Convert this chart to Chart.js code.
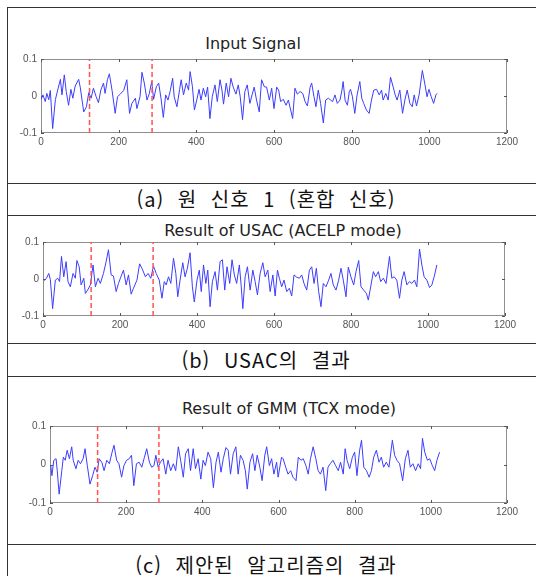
<!DOCTYPE html>
<html lang="ko">
<head>
<meta charset="UTF-8">
<title>Input / USAC / GMM</title>
<script src="https://cdn.jsdelivr.net/npm/chart.js"></script>
<style>
    body {
        margin: 0;
        background: #fff;
    }
    #fig {
        position: relative;
        width: 536px;
        height: 576px;
        overflow: hidden;
        background: #fff;
    }
    .h {
        position: absolute;
        left: 7px;
        right: 0;
        height: 0;
        border-top: 1.5px solid #333;
    }
    .v {
        position: absolute;
        left: 7px;
        top: 7px;
        bottom: 0;
        width: 0;
        border-left: 1.5px solid #333;
    }
    canvas {
        position: absolute;
        left: 8px;
    }
    .ttl {
        position: absolute;
        width: 400px;
        line-height: 20px;
        text-align: center;
        font-family: "DejaVu Sans", sans-serif;
        font-size: 16px;
        color: #222;
        white-space: nowrap;
    }
    .cap {
        position: absolute;
        left: 7px;
        width: 518px;
        line-height: 29px;
        text-align: center;
        font-family: "Noto Sans CJK KR", sans-serif;
        font-size: 20px;
        letter-spacing: 1px;
        word-spacing: 7px;
        color: #111;
        white-space: nowrap;
    }
</style>
</head>
<body>
<div id="fig">
    <div class="h" style="top:7px"></div>
    <div class="v"></div>

    <div class="ttl" style="left:53px; top:34px">Input Signal</div>
    <canvas id="chartA" width="528" height="175" style="top:8px"></canvas>
    <div class="h" style="top:183px"></div>
    <div class="cap" style="top:184px">(a) 원 신호 1 (혼합 신호)</div>
    <div class="h" style="top:215px"></div>

    <div class="ttl" style="left:83px; top:221px">Result of USAC (ACELP mode)</div>
    <canvas id="chartB" width="528" height="127" style="top:216px"></canvas>
    <div class="h" style="top:343px"></div>
    <div class="cap" style="top:345px">(b) USAC의 결과</div>
    <div class="h" style="top:376px"></div>

    <div class="ttl" style="left:89px; top:399px">Result of GMM (TCX mode)</div>
    <canvas id="chartC" width="528" height="167" style="top:377px"></canvas>
    <div class="h" style="top:544px"></div>
    <div class="cap" style="top:550px">(c) 제안된 알고리즘의 결과</div>
</div>

<script>
// sample index / amplitude (peaks and troughs)
const inputSignal = [
    [0,-0.010],[5,0.003],[11,-0.015],[15,0.007],[20,-0.010],[24,0.015],[30,-0.088],[37,-0.010],[43,0.016],[50,0.045],
    [54,0.003],[60,0.057],[65,0.012],[71,-0.025],[77,0.018],[82,-0.006],[88,0.027],[97,0.045],[101,0.024],[110,-0.043],
    [117,-0.029],[123,0.009],[129,-0.006],[135,0.021],[142,-0.002],[148,-0.018],[154,0.016],[161,0.035],[165,0.007],[171,0.044],
    [176,0.060],[183,0.015],[191,-0.047],[197,-0.002],[204,0.005],[213,0.015],[221,0.044],[228,-0.047],[234,-0.020],[243,-0.006],
    [247,-0.034],[255,-0.002],[260,0.064],[266,0.035],[273,-0.011],[279,0.007],[285,0.039],[290,-0.009],[297,0.025],[303,0.035],
    [309,-0.006],[315,-0.058],[321,0.003],[327,-0.011],[333,0.015],[339,0.048],[343,-0.002],[350,-0.029],[357,0.018],[361,0.044],
    [367,0.003],[374,0.035],[380,0.016],[384,0.066],[390,0.025],[395,-0.038],[401,-0.011],[407,0.018],[412,-0.011],[418,0.021],
    [424,-0.002],[429,0.024],[435,-0.061],[441,-0.002],[448,0.030],[454,-0.015],[461,0.044],[466,0.016],[470,-0.022],[477,0.035],
    [483,-0.002],[489,0.048],[495,0.024],[502,0.005],[508,0.030],[513,-0.002],[519,-0.064],[525,0.012],[531,0.030],[538,-0.020],
    [544,0.005],[549,0.024],[555,-0.011],[562,-0.043],[568,0.044],[575,0.025],[581,0.024],[588,-0.011],[594,0.021],[600,-0.034],
    [607,0.024],[612,0.016],[617,-0.015],[624,-0.009],[631,-0.025],[637,-0.011],[643,-0.038],[648,-0.061],[654,0.021],[660,0.005],
    [667,0.012],[674,0.007],[680,-0.015],[686,-0.027],[693,0.024],[697,0.035],[703,-0.002],[708,-0.029],[714,0.016],[720,-0.020],
    [727,-0.073],[733,-0.011],[740,-0.006],[746,-0.011],[751,-0.015],[757,0.003],[763,-0.020],[770,-0.011],[775,0.016],[778,0.039],
    [783,-0.011],[789,-0.025],[794,0.012],[797,0.018],[802,-0.002],[808,-0.047],[814,0.003],[821,0.039],[826,-0.006],[831,-0.020],
    [838,-0.038],[845,-0.047],[851,-0.011],[857,0.016],[864,0.018],[871,0.003],[877,0.016],[881,-0.011],[888,0.007],[894,-0.011],
    [900,0.051],[907,0.024],[912,0.003],[917,-0.011],[924,0.016],[931,-0.047],[937,-0.011],[943,0.016],[950,-0.020],[956,-0.029],
    [961,0.003],[967,-0.027],[974,0.005],[982,0.069],[988,0.035],[994,-0.002],[999,0.018],[1005,-0.002],[1011,-0.020],[1017,0.003],
    [1020,0.007]
];

const usacResult = [
    [2,-0.005],[9,0.002],[15,0.015],[19,-0.001],[25,-0.080],[32,-0.003],[38,0.002],[43,-0.007],[48,0.061],[54,0.006],
    [60,0.047],[65,-0.007],[71,-0.021],[78,0.015],[84,0.002],[88,0.050],[94,0.033],[99,-0.016],[106,0.002],[110,-0.039],
    [116,-0.030],[123,-0.016],[130,0.038],[136,-0.021],[143,0.002],[149,-0.012],[157,0.015],[164,0.047],[170,0.079],[177,0.011],
    [183,0.008],[190,-0.034],[196,-0.012],[202,0.005],[209,0.024],[216,-0.016],[222,0.011],[229,-0.041],[235,-0.025],[244,-0.003],
    [251,0.041],[257,0.029],[266,0.006],[273,0.015],[280,0.002],[287,0.035],[294,0.015],[302,-0.003],[309,-0.052],[315,-0.007],
    [320,-0.016],[326,0.006],[332,-0.012],[339,0.056],[345,0.015],[350,-0.048],[356,-0.003],[363,0.044],[369,0.006],[375,0.029],
    [382,0.071],[388,-0.021],[393,-0.062],[400,-0.003],[406,0.024],[411,-0.034],[417,0.038],[423,-0.012],[428,0.024],[434,-0.075],
    [440,-0.007],[447,0.020],[453,-0.030],[460,0.047],[466,0.052],[472,-0.030],[478,0.033],[485,-0.012],[491,0.052],[497,0.011],
    [503,-0.012],[510,0.038],[515,-0.021],[519,-0.080],[525,0.006],[531,0.033],[538,-0.030],[545,0.024],[551,-0.007],[557,-0.043],
    [564,0.015],[571,0.044],[577,0.006],[584,0.024],[590,-0.034],[597,0.011],[603,-0.046],[609,0.024],[614,0.002],[620,-0.021],
    [626,-0.003],[633,-0.034],[640,-0.025],[646,-0.046],[652,0.011],[659,0.005],[666,0.002],[672,0.011],[678,-0.012],[685,-0.030],
    [692,0.024],[698,0.033],[704,-0.012],[710,0.029],[716,-0.034],[722,-0.075],[728,-0.012],[735,-0.021],[742,-0.003],[748,0.015],
    [754,-0.016],[761,-0.030],[768,-0.003],[774,0.029],[780,-0.003],[787,-0.048],[793,0.032],[800,0.005],[807,-0.016],[813,0.020],
    [820,0.050],[826,-0.021],[833,-0.030],[840,-0.039],[845,-0.057],[852,-0.016],[858,0.020],[864,0.006],[871,0.020],[877,-0.007],
    [884,0.002],[891,-0.012],[900,0.061],[906,0.002],[912,0.006],[919,-0.003],[926,-0.052],[932,-0.003],[938,0.020],[945,-0.016],
    [952,-0.007],[958,-0.012],[965,-0.003],[971,-0.021],[978,0.081],[984,0.038],[990,0.006],[997,-0.003],[1004,-0.023],[1010,-0.016],
    [1016,0.006],[1023,0.038]
];

const gmmResult = [
    [2,-0.003],[5,-0.029],[10,0.011],[16,0.015],[19,-0.016],[24,-0.077],[31,-0.016],[35,0.019],[40,0.011],[45,0.037],
    [51,0.015],[57,0.046],[61,0.011],[68,-0.011],[74,0.011],[80,0.002],[87,0.015],[92,0.041],[98,-0.003],[105,-0.051],
    [112,-0.029],[118,-0.007],[124,-0.020],[129,0.015],[136,0.006],[142,-0.016],[149,0.011],[156,0.002],[162,0.028],[168,0.050],
    [175,0.011],[181,0.002],[188,-0.033],[194,-0.003],[201,0.011],[208,0.015],[214,0.024],[220,-0.055],[227,0.002],[234,0.006],
    [241,-0.007],[248,0.019],[254,0.041],[261,0.006],[267,-0.007],[273,-0.003],[278,0.024],[284,-0.007],[290,0.006],[297,0.015],
    [304,-0.025],[310,0.011],[317,-0.016],[324,0.002],[330,-0.016],[337,0.046],[343,0.011],[350,-0.033],[356,0.028],[363,0.041],
    [369,-0.016],[376,0.041],[382,-0.011],[389,0.015],[396,-0.038],[402,0.011],[408,-0.003],[415,0.032],[422,0.015],[429,-0.060],
    [436,0.006],[442,0.032],[449,-0.020],[455,0.015],[462,0.044],[468,0.037],[474,-0.025],[481,0.028],[488,0.046],[494,-0.025],
    [500,0.024],[507,0.011],[513,-0.016],[518,-0.064],[525,0.006],[532,0.028],[538,-0.016],[544,0.024],[551,-0.007],[557,-0.042],
    [564,0.024],[569,0.046],[576,-0.003],[582,0.015],[588,-0.025],[595,0.006],[599,-0.033],[608,0.019],[612,0.015],[619,-0.007],
    [625,-0.025],[632,-0.016],[638,-0.033],[646,-0.042],[652,0.019],[659,0.011],[665,0.015],[672,-0.003],[678,-0.025],[684,0.015],
    [691,0.046],[698,0.015],[704,-0.016],[710,-0.025],[717,-0.007],[724,-0.068],[730,-0.007],[736,0.002],[743,0.011],[750,-0.003],
    [757,-0.016],[763,0.006],[770,-0.025],[775,0.041],[780,0.011],[787,-0.011],[794,0.019],[800,0.032],[806,-0.029],[813,0.037],
    [818,0.063],[824,-0.007],[831,-0.016],[838,-0.033],[844,-0.016],[850,0.019],[857,0.037],[864,0.006],[870,0.019],[876,-0.007],
    [883,0.006],[890,-0.007],[899,0.063],[905,0.024],[911,0.011],[918,0.002],[926,-0.042],[933,0.015],[940,0.037],[946,-0.007],
    [953,0.002],[960,-0.016],[967,0.002],[973,-0.011],[978,0.068],[984,0.032],[991,0.011],[997,0.015],[1004,-0.003],[1010,-0.016],
    [1016,0.011],[1023,0.032]
];

// frame boundaries (red dashed markers)
const markerX = [125, 286];
const yRange = [-0.1, 0.1];
const xRange = [0, 1200];
const xStep = 200;
const yStep = 0.1;

// box around the plot area with MATLAB-style inward ticks
const boxTicks = {
    id: 'boxTicks',
    beforeDatasetsDraw(chart) {
        const { ctx, chartArea: a, scales } = chart;
        ctx.save();
        ctx.strokeStyle = '#8e8e8e';
        ctx.lineWidth = 1;
        ctx.strokeRect(Math.round(a.left) + 0.5, Math.round(a.top) + 0.5,
            Math.round(a.width) - 1, Math.round(a.height) - 1);
        ctx.strokeStyle = '#555';
        ctx.beginPath();
        scales.x.ticks.forEach(t => {
            const px = Math.round(scales.x.getPixelForValue(t.value)) + 0.5;
            ctx.moveTo(px, a.bottom); ctx.lineTo(px, a.bottom - 3);
            ctx.moveTo(px, a.top); ctx.lineTo(px, a.top + 3);
        });
        scales.y.ticks.forEach(t => {
            const py = Math.round(scales.y.getPixelForValue(t.value)) + 0.5;
            ctx.moveTo(a.left, py); ctx.lineTo(a.left + 3, py);
            ctx.moveTo(a.right, py); ctx.lineTo(a.right - 3, py);
        });
        ctx.stroke();
        ctx.restore();
    }
};

function makeChart(id, series, pad) {
    const markers = markerX.map(mx => ({
        data: yRange.map(y => ({ x: mx, y: y })),
        borderColor: '#ff5252',
        borderWidth: 1.5,
        borderDash: [5, 3],
        pointRadius: 0
    }));
    const signal = {
        data: series.map(p => ({ x: p[0], y: p[1] })),
        borderColor: 'rgb(60, 60, 255)',
        borderWidth: 1,
        pointRadius: 0,
        tension: 0
    };
    const tickFont = { family: '"Liberation Sans", Arial, sans-serif', size: 10 };
    return new Chart(document.getElementById(id), {
        type: 'line',
        data: { datasets: markers.concat([signal]) },
        options: {
            responsive: false,
            animation: false,
            devicePixelRatio: 1,
            layout: { padding: { left: 0, top: pad.top, right: pad.right, bottom: pad.bottom } },
            plugins: {
                legend: { display: false },
                title: { display: false },
                tooltip: { enabled: false }
            },
            scales: {
                x: {
                    type: 'linear',
                    min: xRange[0],
                    max: xRange[1],
                    grid: { display: false, drawTicks: false },
                    border: { display: false },
                    ticks: {
                        stepSize: xStep,
                        padding: 3,
                        color: '#555',
                        font: tickFont,
                        maxRotation: 0,
                        callback: v => String(v)
                    },
                    afterFit: s => { s.height = 20; }
                },
                y: {
                    min: yRange[0],
                    max: yRange[1],
                    grid: { display: false, drawTicks: false },
                    border: { display: false },
                    ticks: {
                        stepSize: yStep,
                        padding: 4,
                        color: '#555',
                        font: tickFont,
                        callback: v => Math.abs(v) < 1e-9 ? '0' : String(+v.toFixed(1))
                    },
                    afterFit: s => { s.width = pad.left; }
                }
            }
        },
        plugins: [boxTicks]
    });
}

makeChart('chartA', inputSignal, { left: 33, top: 51, right: 29, bottom: 30 });
makeChart('chartB', usacResult, { left: 35, top: 26, right: 31, bottom: 7 });
makeChart('chartC', gmmResult, { left: 42, top: 49, right: 29, bottom: 21 });
</script>
</body>
</html>
